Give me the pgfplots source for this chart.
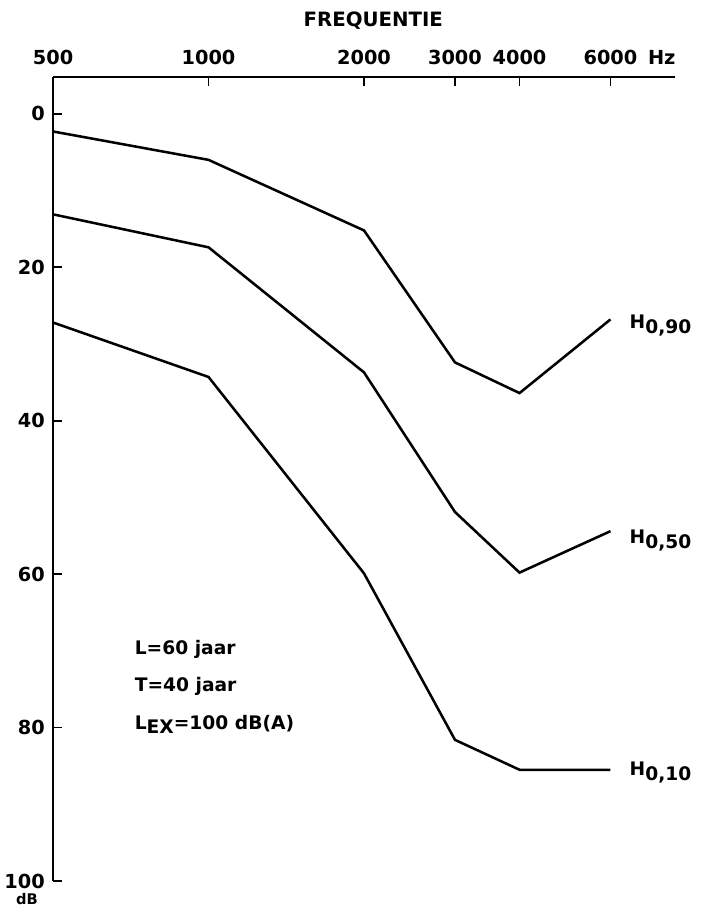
\documentclass[border=0pt]{standalone}
\usepackage{fontspec}
\setmainfont{DejaVu Sans}
\usepackage{pgfplots}
\pgfplotsset{compat=1.18}
\begin{document}
\begin{tikzpicture}
\begin{axis}[
  scale only axis, width=466.5pt, height=603pt,
  xmode=log, xmin=500, xmax=8000,
  ymin=-4.8, ymax=100, y dir=reverse,
  axis x line*=top, axis y line*=left,
  axis line style={-},
  x axis line style={line width=1.9pt},
  y axis line style={line width=1.5pt},
  xtick={500,1000,2000,3000,4000,6000},
  xticklabels={500,1000,2000,3000,4000,{6000\rlap{\hspace{0.55em}Hz}}},
  ytick={0,20,40,60,80,100},
  xminorticks=false, yminorticks=false,
  tick align=inside,
  major tick length=7pt,
  tick style={black, line width=1.2pt},
  /pgf/number format/assume math mode=true,
  ticklabel style={font=\bfseries\fontsize{14.5}{17}\selectfont, inner sep=0pt},
  xticklabel shift=9pt,
  yticklabel shift=6pt,
  clip=false,
]
\addplot[black, line width=1.9pt] coordinates {(500,2.3) (1000,6.0) (2000,15.2) (3000,32.4) (4000,36.4) (6000,26.8)};
\addplot[black, line width=1.9pt] coordinates {(500,13.1) (1000,17.4) (2000,33.7) (3000,51.9) (4000,59.8) (6000,54.4)};
\addplot[black, line width=1.9pt] coordinates {(500,27.2) (1000,34.3) (2000,59.9) (3000,81.6) (4000,85.5) (6000,85.5)};
\coordinate (TL) at (axis cs:500,-4.8);
\coordinate (BR) at (axis cs:8000,100);
\begin{scope}[font=\bfseries\fontsize{14}{16}\selectfont]
\node[anchor=west] at (axis cs:6400,27.6) {H\raisebox{-4pt}{0,90}};
\node[anchor=west] at (axis cs:6400,55.6) {H\raisebox{-4pt}{0,50}};
\node[anchor=west] at (axis cs:6400,85.9) {H\raisebox{-4pt}{0,10}};
\node[anchor=west] at (axis cs:705,69.8) {L=60 jaar};
\node[anchor=west] at (axis cs:705,74.7) {T=40 jaar};
\node[anchor=west] at (axis cs:705,79.6) {L\raisebox{-3pt}{EX}=100 dB(A)};
\end{scope}
\node[font=\bfseries\fontsize{14.8}{17}\selectfont] at (axis cs:2085,-12.2) {FREQUENTIE};
\node[font=\bfseries\fontsize{11}{13}\selectfont] at (axis cs:445,102.4) {dB};
\end{axis}
\pgfresetboundingbox
\path ([xshift=-39.75pt,yshift=57.75pt]TL) rectangle ([xshift=21pt,yshift=-21.75pt]BR);
\end{tikzpicture}
\end{document}
